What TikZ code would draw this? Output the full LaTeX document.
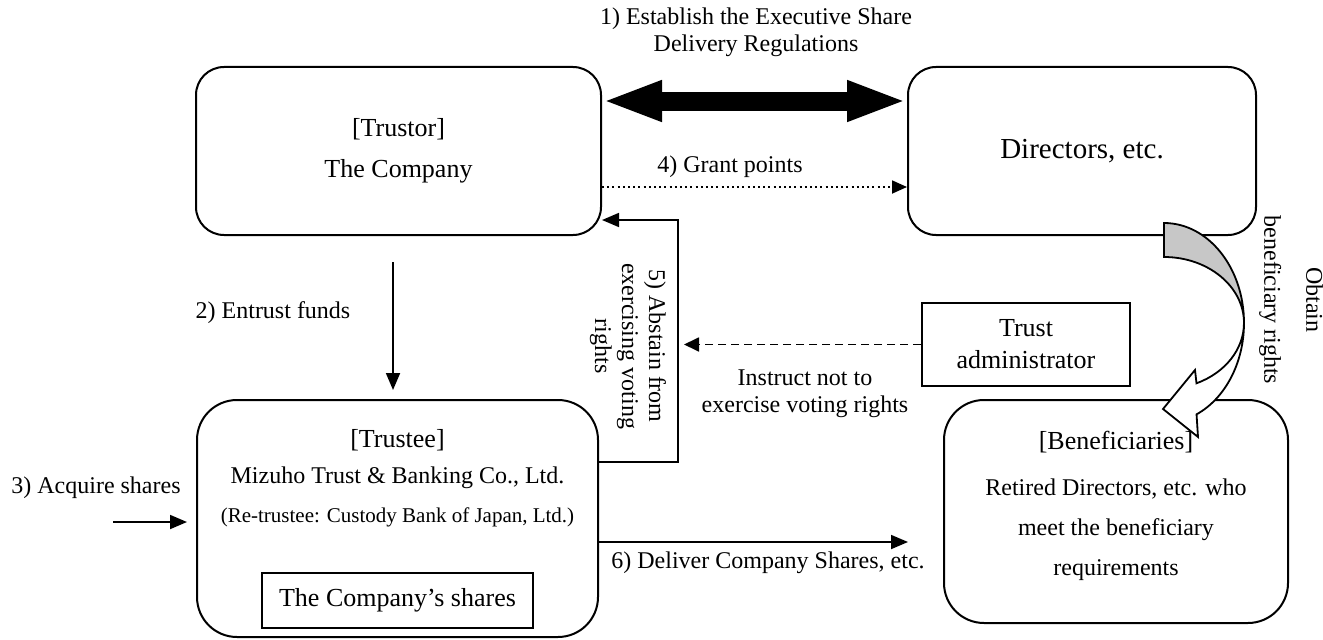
\documentclass[tikz,border=0pt]{standalone}
\usepackage{fontspec}
\setmainfont{Liberation Serif}
\usetikzlibrary{arrows.meta}

\begin{document}
\begin{tikzpicture}[x=0.5pt,y=0.5pt,
  party/.style={draw, line width=1pt, rounded corners=14pt, align=center,
    minimum width=202.5pt, minimum height=84pt, font=\fontsize{13}{20.5}\selectfont},
  holder/.style={draw, line width=1pt, rounded corners=20pt, inner sep=0pt},
  plainbox/.style={draw, line width=0.9pt, align=center, font=\fontsize{13}{16}\selectfont},
  txt/.style={align=center, font=\fontsize{12}{13.5}\selectfont},
  arr/.style={line width=0.9pt, -{Triangle[length=8.5pt,width=7pt]}},
  dasharr/.style={line width=0.9pt, dash pattern=on 4pt off 2.5pt, -{Triangle[length=7.5pt,width=7pt]}},
  dotarr/.style={line width=0.9pt, dash pattern=on 1pt off 1.6pt, -{Triangle[length=7.5pt,width=6.5pt]}},
  bigarr/.style={line width=9.5pt, {Triangle[length=30pt,width=18.5pt]}-{Triangle[length=30pt,width=18.5pt]}}
]
\useasboundingbox (0,0) rectangle (1323,639);

% parties
\node[party] (trustor) at (398.5,488) {[Trustor]\\The Company};
\node[party, minimum width=174pt, font=\fontsize{14.5}{17}\selectfont] (directors) at (1082,488) {Directors, etc.};
\node[holder, minimum width=200.5pt, minimum height=118.5pt] (trustee) at (397.5,120.5) {};
\node[font=\fontsize{13}{15}\selectfont] (trusteehead) at (397.5,199) {[Trustee]};
\node[font=\fontsize{12}{14}\selectfont] (trusteename) at (397.5,161) {Mizuho Trust \& Banking Co., Ltd.};
\node[font=\fontsize{10.5}{12}\selectfont] (retrustee) at (397.5,122) {(Re-trustee: Custody Bank of Japan, Ltd.)};
\node[plainbox, minimum width=135.5pt, minimum height=27.5pt] (shares) at (397.5,38.5) {The Company’s shares};
\node[holder, minimum width=172pt, minimum height=111.5pt] (benef) at (1116,127.5) {};
\node[font=\fontsize{13}{15}\selectfont] (beneftitle) at (1116,197) {[Beneficiaries]};
\node[align=center, font=\fontsize{12}{20}\selectfont] (benefdesc) at (1116,109)
  {Retired Directors, etc. who\\meet the beneficiary\\requirements};
\node[plainbox, minimum width=104pt, minimum height=41.5pt] (admin) at (1026,294.5) {Trust\\administrator};

% free ends
\coordinate (fundsstart) at (393,377);
\coordinate (fundsend) at (393,249);
\coordinate (acqstart) at (113,117);
\coordinate (acqend) at (187,117);
\coordinate (bend5a) at (678,177);
\coordinate (bend5b) at (678,419);
\coordinate (instrtip) at (684,290);
\coordinate (deliverend) at (908,97);

% connectors
\draw[bigarr] ([yshift=25pt]trustor.east) -- ([yshift=25pt]directors.west);
\draw[dotarr] ([yshift=-18pt]trustor.east) -- ([yshift=-18pt]directors.west);
\draw[arr] (fundsstart) -- (fundsend);
\draw[arr] (acqstart) -- (acqend);
\draw[arr] (trustee.east |- bend5a) -- (bend5a) -- (bend5b) -- (trustor.east |- bend5b);
\draw[dasharr] (admin.west) -- (admin.west -| instrtip);
\draw[arr] (trustee.east |- deliverend) -- (deliverend);

% curved arrow
\draw[line width=0.9pt, fill=black!22] (1164,416)
  arc[start angle=90, end angle=0, x radius=40pt, y radius=50pt]
  arc[start angle=0, end angle=90, x radius=40pt, y radius=33pt] -- cycle;
\draw[line width=0.9pt, fill=white] (1244,316)
  arc[start angle=0, end angle=-66, x radius=40pt, y radius=50pt]
  -- (1198,202) -- (1163,230) -- (1195,269) -- (1196.5,255.7)
  arc[start angle=-66, end angle=0, x radius=40pt, y radius=33pt] -- cycle;

% labels
\node[txt] (lbl1) at (756,606.5) {1) Establish the Executive Share\\Delivery Regulations};
\node[txt] (lbl4) at (730,472) {4) Grant points};
\node[txt] (lbl2) at (273,326) {2) Entrust funds};
\node[txt] (lbl3) at (96,151) {3) Acquire shares};
\node[txt, rotate=-90] (lbl5) at (628,293) {5) Abstain from\\exercising voting\\rights};
\node[txt] (lblinstr) at (805,245.5) {Instruct not to\\exercise voting rights};
\node[txt] (lbl6) at (768,76) {6) Deliver Company Shares, etc.};
\node[txt, rotate=-90, font=\fontsize{12}{21}\selectfont] (lblobtain) at (1291,339) {Obtain\\beneficiary rights};
\end{tikzpicture}
\end{document}
